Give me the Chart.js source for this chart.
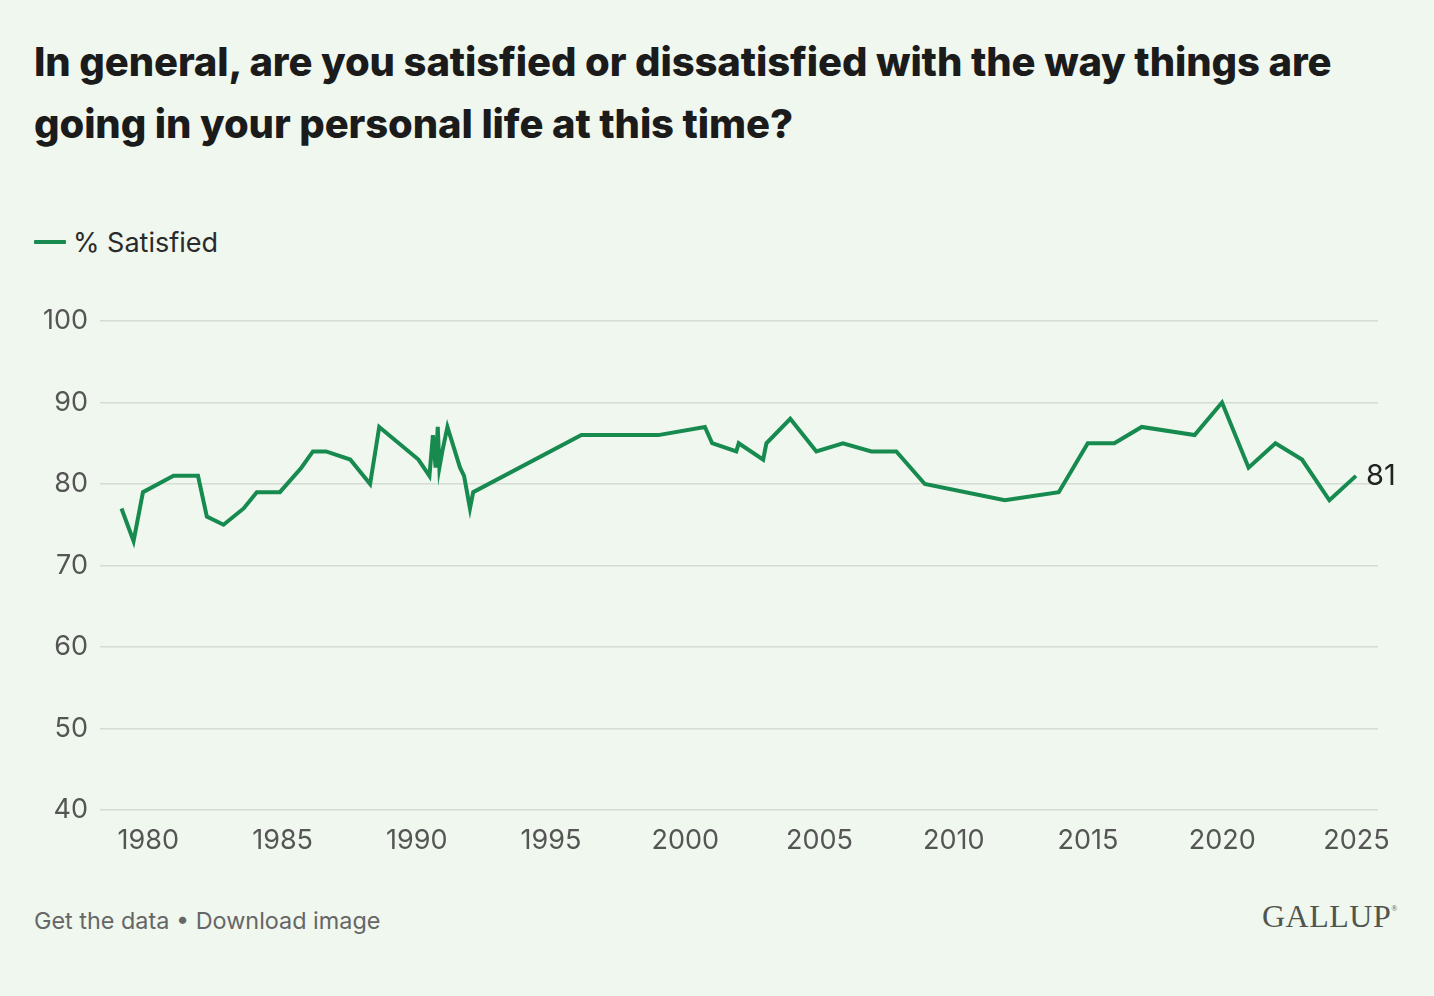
<!DOCTYPE html>
<html>
<head>
<meta charset="utf-8">
<script src="https://cdn.jsdelivr.net/npm/chart.js@4.4.1/dist/chart.umd.min.js"></script>
<style>
  html, body { margin:0; padding:0; background:#eff7ee; }
  body { width:1434px; height:996px; position:relative; overflow:hidden; font-family: Inter, "Noto Sans", sans-serif; }
  #title { position:absolute; left:34px; top:31px; width:1400px; white-space:nowrap; font-weight:800; font-size:40px; line-height:62px; color:#1b1b1b; letter-spacing:-0.1px; }
  #legend { position:absolute; left:34px; top:224px; height:36px; display:flex; align-items:center; }
  #legend .sw { width:32px; height:4px; background:#178a4f; margin-right:7px; border-radius:1px; }
  #legend .tx { font-size:27px; color:#2a2a2a; }
  #footer { position:absolute; left:34px; top:906px; font-size:23.4px; color:#666; }
  #logo { position:absolute; left:1262px; top:898px; font-family:"Liberation Serif","DejaVu Serif",serif; font-size:32px; color:#505550; letter-spacing:0.5px; }
  #logo sup { font-size:8px; vertical-align:top; position:relative; top:6px; }
  #wrap { position:absolute; left:0; top:290px; width:1434px; height:580px; }
</style>
</head>
<body>
<div id="title">In general, are you satisfied or dissatisfied with the way things are<br>going in your personal life at this time?</div>
<div id="legend"><div class="sw"></div><div class="tx">% Satisfied</div></div>
<div id="footer">Get the data • Download image</div>
<div id="logo">GALLUP<sup>®</sup></div>
<div id="wrap"><canvas id="c" width="1434" height="580"></canvas></div>
<script>
const years = [1979.0,1979.45,1979.8,1980.94,1981.85,1982.18,1982.8,1983.55,1984.04,1984.9,1985.7,1986.13,1986.62,1987.52,1988.26,1988.6,1990.06,1990.47,1990.6,1990.7,1990.78,1990.84,1990.95,1991.14,1991.61,1991.76,1991.98,1992.1,1996.13,1998.99,2000.73,2001.0,2001.9,2001.99,2002.9,2003.02,2003.91,2004.88,2005.87,2006.93,2007.86,2008.92,2011.9,2013.91,2014.99,2015.98,2017.0,2018.97,2019.99,2020.98,2021.98,2022.97,2023.99,2024.98];
const satisfied = [77,73,79,81,81,76,75,77,79,79,82,84,84,83,80,87,83,81,86,82,87,82,84,87,82,81,77,79,86,86,87,85,84,85,83,85,88,84,85,84,84,80,78,79,85,85,87,86,90,82,85,83,78,81];
const xTicks = [1980,1985,1990,1995,2000,2005,2010,2015,2020,2025];
const yTicks = [40,50,60,70,80,90,100];
const seriesName = '% Satisfied';

const endLabel = {
  id:'endLabel',
  afterDatasetsDraw(chart){
    const meta = chart.getDatasetMeta(0);
    const pt = meta.data[meta.data.length-1];
    const ctx = chart.ctx;
    ctx.save();
    ctx.font = '29px Inter, "Noto Sans", sans-serif';
    ctx.fillStyle = '#222';
    ctx.textAlign = 'left';
    ctx.textBaseline = 'middle';
    ctx.fillText(String(satisfied[satisfied.length-1]), pt.x + 10, pt.y);
    ctx.restore();
  }
};

new Chart(document.getElementById('c'), {
  type:'line',
  data:{ datasets:[{ label:seriesName, data: years.map((y,i)=>({x:y, y:satisfied[i]})), borderColor:'#178a4f', borderWidth:4, pointRadius:0, tension:0, borderJoinStyle:'miter', fill:false }]},
  options:{
    responsive:false, animation:false,
    layout:{ padding:{ left:0, right:56, top:31, bottom:0 } },
    plugins:{ legend:{display:false}, tooltip:{enabled:false} },
    scales:{
      x:{ type:'linear', min:1978.2, max:2025.8,
        afterBuildTicks(s){ s.ticks = xTicks.map(v=>({value:v})); },
        afterFit(s){ s.height = 60; },
        grid:{ display:false }, border:{ display:false },
        ticks:{ padding:7, color:'#555', font:{ size:27, family:'Inter, "Noto Sans", sans-serif' }, maxRotation:0, autoSkip:false, callback:v=>String(v) }
      },
      y:{ min:40, max:100,
        afterBuildTicks(s){ s.ticks = yTicks.map(v=>({value:v})); },
        afterFit(s){ s.width = 100; },
        grid:{ color:'#d6dbd4', lineWidth:1.5, drawTicks:false }, border:{ display:false },
        ticks:{ padding:12, color:'#555', font:{ size:27, family:'Inter, "Noto Sans", sans-serif' } }
      }
    }
  },
  plugins:[endLabel]
});
</script>
</body>
</html>
